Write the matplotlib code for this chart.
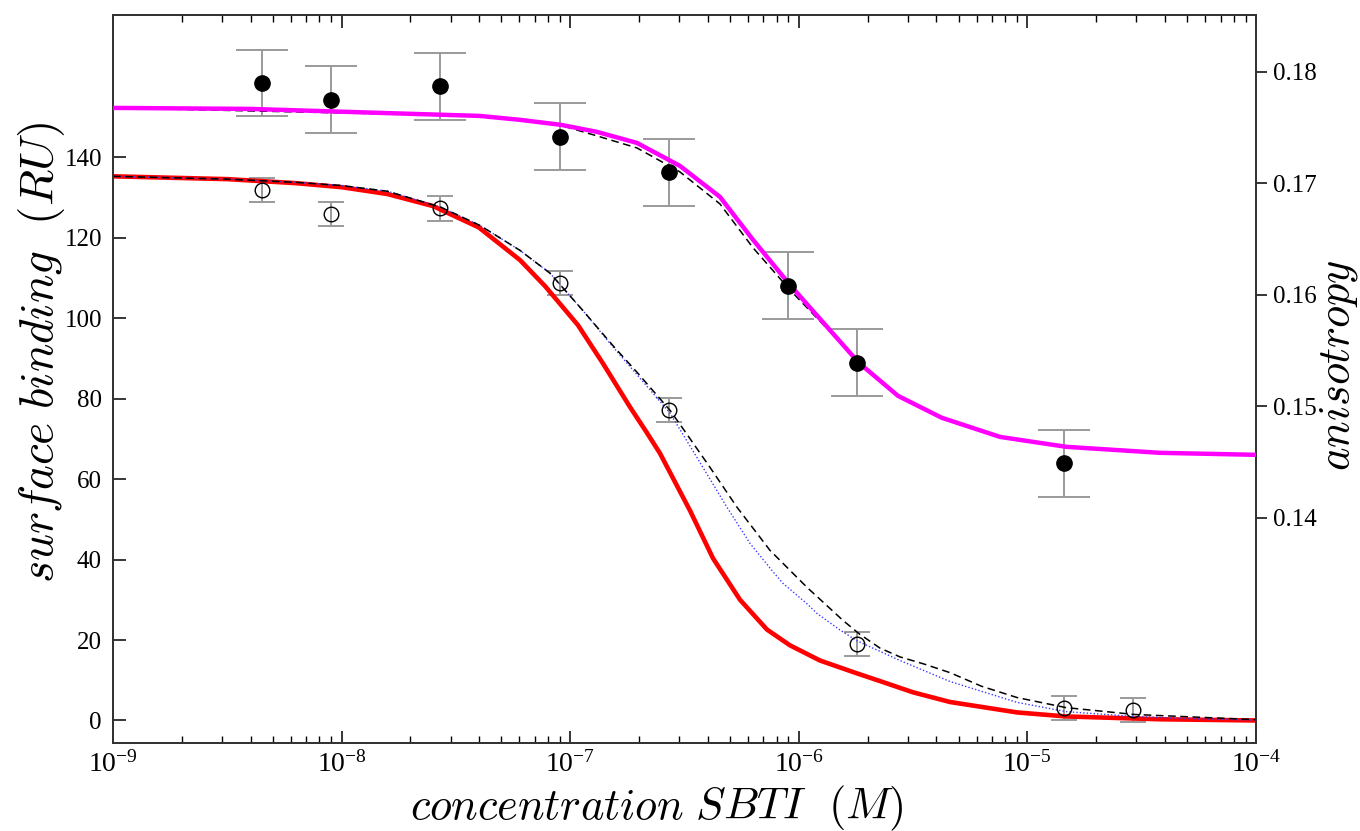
import numpy as np
import matplotlib
matplotlib.use("Agg")
import matplotlib.pyplot as plt
from matplotlib.ticker import FixedLocator, LogLocator, FuncFormatter, NullFormatter

plt.rcParams['font.family'] = ['Liberation Serif', 'DejaVu Serif']
plt.rcParams['mathtext.fontset'] = 'cm'

# ---------------- data ----------------
# anisotropy measurements (filled circles, right axis)
conc_filled = [4.5e-9, 9e-9, 2.7e-8, 9e-8, 2.7e-7, 9e-7, 1.8e-6, 1.45e-5]
aniso_filled = [0.1790, 0.1775, 0.1787, 0.1742, 0.1710, 0.1608, 0.1539, 0.1449]
aniso_err = [0.003, 0.003, 0.003, 0.003, 0.003, 0.003, 0.003, 0.003]

# surface binding measurements (open circles, left axis)
conc_open = [4.5e-9, 9e-9, 2.7e-8, 9e-8, 2.7e-7, 1.8e-6, 1.45e-5, 2.9e-5]
ru_open = [131.8, 125.9, 127.3, 108.7, 77.3, 19.1, 3.0, 2.7]
ru_err = [3.0, 3.0, 3.0, 3.0, 3.0, 3.0, 3.0, 3.0]

# anisotropy fit (magenta)
logc_mag = [-9.0, -8.40, -7.395, -7.22, -7.04, -6.883, -6.708, -6.52, -6.345, -6.20,
            -6.039, -5.737, -5.566, -5.374, -5.12, -4.831, -4.42, -4.0]
aniso_mag = [0.17677, 0.17668, 0.17605, 0.17570, 0.17525, 0.17462, 0.17363, 0.17157,
             0.16879, 0.16493, 0.16090, 0.15390, 0.15094, 0.14897, 0.14726, 0.14637,
             0.14583, 0.14565]

# anisotropy model (black dashed)
logc_mag_dash = [-9.0, -7.395, -7.04, -6.883, -6.708, -6.52, -6.345, -6.20, -6.039,
                 -5.737, -5.566, -5.374, -5.12, -4.831, -4.42, -4.0]
aniso_mag_dash = [0.17677, 0.17605, 0.17520, 0.17426, 0.17318, 0.17103, 0.16816, 0.16422,
                  0.16045, 0.15399, 0.15094, 0.14897, 0.14726, 0.14637, 0.14583, 0.14565]

# surface binding fit (red)
logc_red = [-9.0, -8.5, -8.2, -8.0, -7.8, -7.6, -7.4, -7.22, -7.11, -6.966, -6.857,
            -6.738, -6.664, -6.607, -6.476, -6.375, -6.257, -6.139, -6.039, -5.907,
            -5.75, -5.645, -5.5, -5.339, -5.045, -4.831, -4.42, -4.0]
ru_red = [135.3, 134.6, 133.6, 132.6, 130.9, 127.9, 122.6, 114.5, 108.0, 98.3, 88.8,
          77.9, 71.5, 66.4, 52.2, 40.3, 30.0, 22.6, 18.7, 14.9,
          11.8, 9.8, 7.0, 4.6, 2.0, 1.0, 0.3, 0.0]

# surface binding model (black dashed)
logc_dash = [-9.0, -8.5, -8.2, -8.0, -7.8, -7.565, -7.395, -7.22, -7.088, -6.944,
             -6.813, -6.708, -6.563, -6.507, -6.388, -6.27, -6.126, -5.964,
             -5.807, -5.737, -5.645, -5.557, -5.45, -5.339, -5.2, -5.045, -4.831,
             -4.534, -4.0]
ru_dash = [135.3, 134.6, 133.8, 133.0, 131.6, 127.6, 123.1, 116.9, 111.2, 101.9,
           93.2, 86.6, 77.1, 72.6, 62.9, 53.0, 42.3, 33.1,
           24.9, 21.6, 18.0, 15.8, 14.0, 11.9, 8.5, 5.7, 3.2, 1.5, 0.2]

# surface binding model (blue dotted)
logc_dot = [-9.0, -8.5, -8.2, -8.0, -7.8, -7.565, -7.395, -7.22, -7.088, -6.944,
            -6.813, -6.708, -6.563, -6.419, -6.314, -6.213, -6.113, -6.069, -5.964,
            -5.92, -5.82, -5.745, -5.557, -5.339, -5.045, -4.831, -4.534, -4.319, -4.0]
ru_dot = [135.3, 134.6, 133.8, 133.0, 131.6, 127.6, 123.1, 116.9, 111.2, 101.9,
          92.9, 86.0, 76.4, 62.9, 53.0, 44.0, 37.0, 34.1, 29.0,
          26.6, 22.5, 19.8, 14.9, 9.7, 4.5, 2.2, 1.0, 0.5, 0.1]

xticks = [1e-9, 1e-8, 1e-7, 1e-6, 1e-5, 1e-4]
yticks_left = [0, 20, 40, 60, 80, 100, 120, 140]
yticks_right = [0.14, 0.15, 0.16, 0.17, 0.18]

# ---------------- figure ----------------
fig = plt.figure(figsize=(13.6, 8.31), dpi=100)
ax = fig.add_axes([0.0831, 0.1059, 0.8404, 0.876])
ax2 = ax.twinx()

ax.set_xscale('log')
ax.set_xlim(1e-9, 1e-4)
ax.set_ylim(-5.6, 175.4)
ax2.set_ylim(0.1198, 0.1851)

grey = '#9a9a9a'

# left-axis series
ax.plot(10 ** np.array(logc_red), ru_red, color='#ff0000', lw=3.3, zorder=3,
        solid_joinstyle='round')
ax.plot(10 ** np.array(logc_dot), ru_dot, color='#3b3bff', lw=1.0, ls=(0, (1, 1.5)), zorder=4)
ax.plot(10 ** np.array(logc_dash), ru_dash, color='black', lw=1.1, ls=(0, (5, 3)), zorder=4)
ax.errorbar(conc_open, ru_open, yerr=ru_err, fmt='none', ecolor=grey, elinewidth=1.4,
            capsize=9.6, capthick=1.4, zorder=2)
ax.plot(conc_open, ru_open, 'o', mfc='none', mec='black', mew=1.0, ms=10.5, ls='none', zorder=5)

# right-axis series
ax2.plot(10 ** np.array(logc_mag_dash), aniso_mag_dash, color='black', lw=1.1,
         ls=(0, (5, 3)), zorder=3)
ax2.plot(10 ** np.array(logc_mag), aniso_mag, color='#ff00ff', lw=3.2, zorder=4,
         solid_joinstyle='round')
ax2.errorbar(conc_filled, aniso_filled, yerr=aniso_err, fmt='none', ecolor=grey,
             elinewidth=1.4, capsize=18.4, capthick=1.4, zorder=2)
ax2.plot(conc_filled, aniso_filled, 'o', color='black', ms=11, ls='none', zorder=5)

# ticks
ax.xaxis.set_major_locator(FixedLocator(xticks))
ax.xaxis.set_minor_locator(LogLocator(base=10, subs=np.arange(2, 10)))
ax.xaxis.set_minor_formatter(NullFormatter())
ax.xaxis.set_major_formatter(FuncFormatter(
    lambda v, p: r'$\mathregular{10^{%d}}$' % int(round(np.log10(v)))))
ax.set_yticks(yticks_left)
ax.tick_params(axis='x', which='major', direction='in', length=9, width=1.1,
               top=True, bottom=True, labelsize=20, pad=6)
ax.tick_params(axis='x', which='minor', direction='in', length=5, width=1.0,
               top=True, bottom=True)
ax.tick_params(axis='y', which='major', direction='in', length=9, width=1.1,
               left=True, right=False, labelsize=18, pad=8)

ax2.set_yticks(yticks_right)
ax2.yaxis.set_major_formatter(FuncFormatter(lambda v, p: '%.2f' % v))
ax2.tick_params(axis='y', which='major', direction='out', length=8, width=1.1,
                right=True, labelsize=18, pad=4)

for a in (ax, ax2):
    for s in a.spines.values():
        s.set_linewidth(1.3)
        s.set_color('#333333')

ax.set_xlabel(r'$concentration\ SBTI\ \ (M)$', fontsize=32)
ax.xaxis.set_label_coords(0.476, -0.056)
ax.set_ylabel(r'$surface\ binding\ \ (RU)$', fontsize=34)
ax.yaxis.set_label_coords(-0.040, 0.537)
ax2.set_ylabel(r'$anisotropy$', fontsize=32)
ax2.yaxis.set_label_coords(1.054, 0.519)

fig.savefig('out.png', dpi=100)
